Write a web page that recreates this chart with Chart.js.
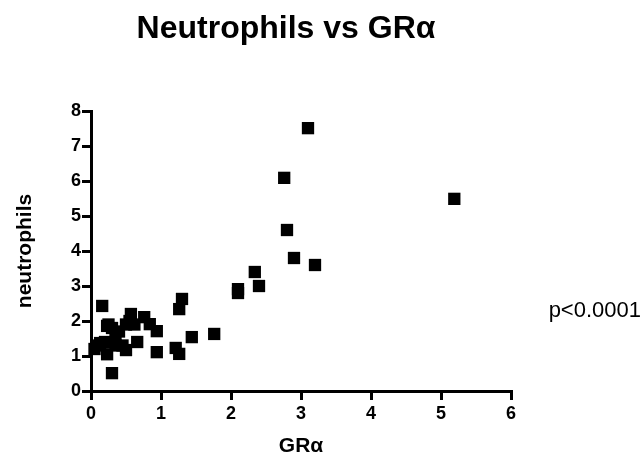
<!DOCTYPE html>
<html>
<head>
<meta charset="utf-8">
<script src="https://cdn.jsdelivr.net/npm/chart.js@4.4.0/dist/chart.umd.min.js"></script>
<style>
  html, body { margin: 0; padding: 0; background: #fff; }
  #wrap { width: 644px; height: 464px; position: relative; }
</style>
</head>
<body>
<div id="wrap"><canvas id="scatter"></canvas></div>
<script>
const chartTitle = 'Neutrophils vs GR\u03b1';
const xTitle = 'GR\u03b1';
const yTitle = 'neutrophils';
const pLabel = 'p<0.0001';

const xTicks = [0, 1, 2, 3, 4, 5, 6];
const yTicks = [0, 1, 2, 3, 4, 5, 6, 7, 8];

// GRα expression (x) and neutrophil count (y)
const gra = [
    0.05, 0.13, 0.16, 0.23, 0.23, 0.3, 0.5, 0.66, 0.94, 0.94,
    0.57, 0.76, 0.84, 0.3, 0.35, 0.4, 0.45, 0.5, 0.55, 0.62,
    0.35, 0.2, 0.1, 0.25,
    1.21, 1.26, 1.44, 1.76, 1.3, 1.26,
    2.1, 2.1, 2.4, 2.34, 2.9, 3.2, 2.8, 2.76, 3.1, 5.19
];
const neutrophils = [
    1.2, 1.37, 2.43, 1.86, 1.05, 0.51, 1.17, 1.4, 1.11, 1.71,
    2.2, 2.11, 1.91, 1.8, 1.5, 1.7, 1.3, 1.9, 2.0, 1.9,
    1.3, 1.4, 1.3, 1.9,
    1.23, 1.06, 1.54, 1.63, 2.63, 2.34,
    2.91, 2.8, 3.0, 3.4, 3.8, 3.6, 4.6, 6.09, 7.51, 5.49
];

const points = gra.map((x, i) => ({ x: x, y: neutrophils[i] }));

const FONT = 'Arial, "Liberation Sans", sans-serif';

// title and p-value are free text in the original figure
const textPlugin = {
    id: 'extraText',
    afterDraw(chart) {
        const ctx = chart.ctx;
        ctx.save();
        ctx.fillStyle = '#000';
        ctx.textBaseline = 'alphabetic';
        ctx.textAlign = 'center';
        ctx.font = 'bold 32px ' + FONT;
        ctx.fillText(chartTitle, 286, 38);
        ctx.textAlign = 'right';
        ctx.font = '22px ' + FONT;
        ctx.fillText(pLabel, 641, 317);
        ctx.restore();
    }
};

new Chart(document.getElementById('scatter'), {
    type: 'scatter',
    data: {
        datasets: [{
            label: 'neutrophils',
            data: points,
            pointStyle: 'rect',
            pointRadius: 8.7,
            pointHoverRadius: 8.7,
            backgroundColor: '#000',
            borderColor: '#000',
            borderWidth: 0,
            clip: false
        }]
    },
    options: {
        responsive: true,
        maintainAspectRatio: false,
        animation: false,
        layout: {
            padding: { top: 111, right: 133, left: 0, bottom: 0 }
        },
        plugins: {
            legend: { display: false },
            tooltip: { enabled: false },
            title: { display: false }
        },
        scales: {
            x: {
                type: 'linear',
                min: 0,
                max: 6,
                afterBuildTicks: function(scale) {
                    scale.ticks = xTicks.map(v => ({ value: v }));
                },
                afterFit: function(scale) { scale.height = 73; },
                border: { display: true, color: '#000', width: 3 },
                grid: {
                    drawOnChartArea: false,
                    drawTicks: true,
                    tickLength: 9,
                    lineWidth: 3,
                    color: '#000'
                },
                ticks: {
                    color: '#000',
                    padding: 3,
                    font: { family: FONT, size: 18, weight: 'bold' }
                },
                title: {
                    display: true,
                    text: xTitle,
                    color: '#000',
                    padding: { top: 0, bottom: 5 },
                    font: { family: FONT, size: 21, weight: 'bold' }
                }
            },
            y: {
                type: 'linear',
                min: 0,
                max: 8,
                afterBuildTicks: function(scale) {
                    scale.ticks = yTicks.map(v => ({ value: v }));
                },
                afterFit: function(scale) { scale.width = 91; },
                border: { display: true, color: '#000', width: 3 },
                grid: {
                    drawOnChartArea: false,
                    drawTicks: true,
                    tickLength: 9,
                    lineWidth: 3,
                    color: '#000'
                },
                ticks: {
                    color: '#000',
                    padding: 1,
                    font: { family: FONT, size: 18, weight: 'bold' }
                },
                title: {
                    display: true,
                    text: yTitle,
                    color: '#000',
                    padding: { top: 13, bottom: 0 },
                    font: { family: FONT, size: 21, weight: 'bold' }
                }
            }
        }
    },
    plugins: [textPlugin]
});
</script>
</body>
</html>
